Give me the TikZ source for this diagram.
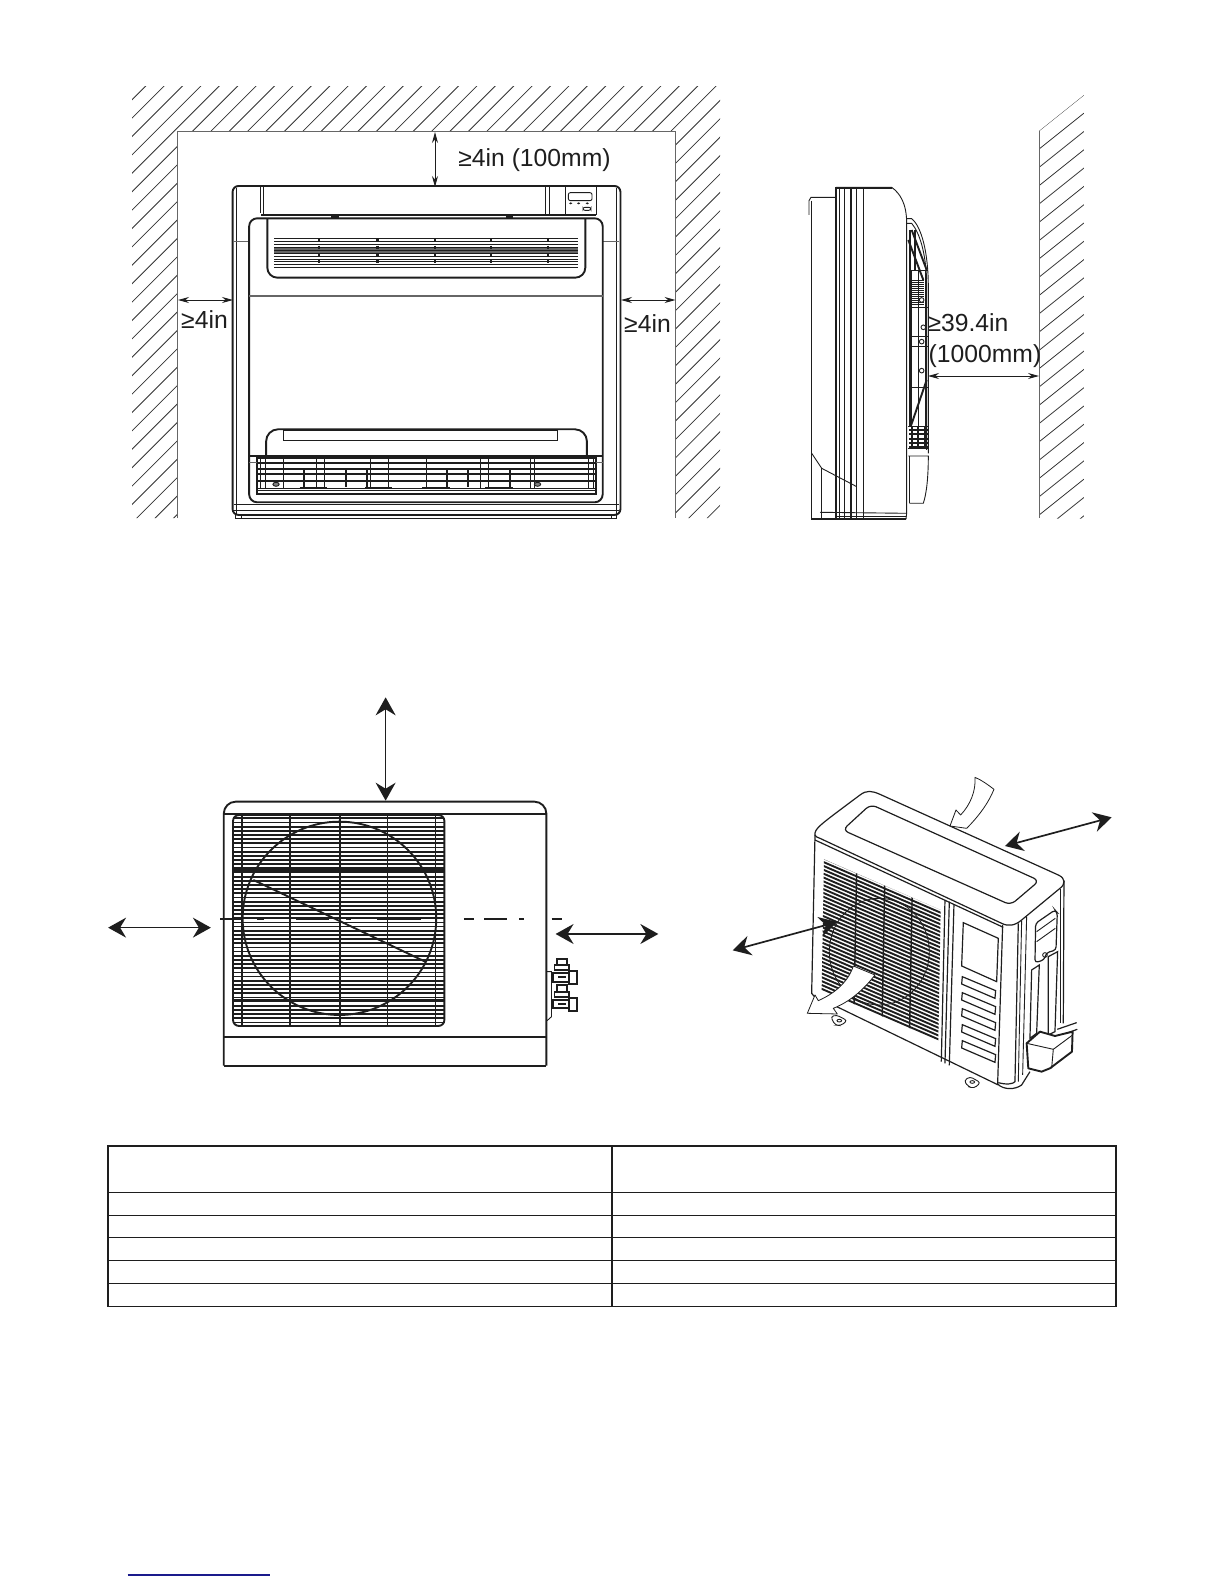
\documentclass[tikz,border=0pt]{standalone}
\usepackage{fontspec}
\setmainfont{Liberation Sans}
\usetikzlibrary{arrows.meta}
\definecolor{ink}{HTML}{1E1E1E}
\definecolor{linkblue}{HTML}{1A1A8C}
\tikzset{
 ln/.style={draw=ink,line width=.45pt},
 lnb/.style={draw=ink,line width=.95pt},
 lnh/.style={draw=ink,line width=1.3pt},
 lng/.style={draw=black!60,line width=.45pt},
 hat/.style={draw=black!80,line width=.4pt},
 tbl/.style={draw=ink,line width=.6pt},
 zA/.style={shift={(120,70)},xscale=0.395,yscale=0.3333},
 zB/.style={shift={(780,80)},xscale=0.3333,yscale=0.3333},
 zC/.style={shift={(100,680)},xscale=0.3695,yscale=0.3333},
 zD/.style={shift={(720,760)},xscale=0.3333,yscale=0.3333},
 dimarrow/.style={draw=ink,line width=.45pt,{Stealth[length=5.5pt,width=3pt]}-{Stealth[length=5.5pt,width=3pt]}},
 bigarrow/.style={draw=ink,line width=.85pt,{Stealth[length=9pt,width=10pt,inset=3pt]}-{Stealth[length=9pt,width=10pt,inset=3pt]}},
 flow/.style={draw=ink,fill=white,line width=.4pt,line join=round},
 lab/.style={font=\fontsize{12.4}{15}\selectfont,inner sep=0pt,text=ink},
}
\begin{document}
\begin{tikzpicture}[x=.5bp,y=-.5bp]
\useasboundingbox (0,0) rectangle (1224,1584);
\fill[white] (0,0) rectangle (1224,1584);
% wall, front view
\begin{scope}
\clip (132,86) -- (720,86) -- (720,518) -- (675.5,518) -- (675.5,131) -- (177.7,131) -- (177.7,518) -- (132,518) -- cycle;
\foreach \k in {0,...,55}{
 \pgfmathsetmacro\c{231.7+18.4*\k}
 \draw[hat] (\c-80,80) -- (\c-530,530);
}
\end{scope}
\draw[lng] (177.7,518) -- (177.7,131) -- (675.5,131) -- (675.5,518);
% front indoor unit
\begin{scope}[zA]
\draw[lnb,rounded corners=3pt] (285,1335) -- (285,348) -- (1267,348) -- (1267,1335) -- cycle;
\draw[ln] (296,355) -- (296,1335);
\draw[ln] (1258,355) -- (1258,1335);
\draw[ln] (293,1335) -- (293,1345) -- (1258,1345) -- (1258,1335);
\draw[ln] (308,1335) -- (308,1345);
\draw[ln] (1244,1335) -- (1244,1345);
\draw[ln] (288,1304) -- (1264,1304);
\draw[ln] (288,1320) -- (1264,1320);
\draw[lng] (288,515) -- (327,515);
\draw[lng] (1222,515) -- (1264,515);
\draw[ln] (355,350) -- (355,428);
\draw[ln] (362,350) -- (362,432);
\draw[lnb] (358,435) -- (1205,435);
\draw[ln] (1078,350) -- (1078,435);
\draw[ln] (1086,350) -- (1086,435);
\draw[ln] (1128,350) -- (1128,435);
\draw[ln] (1205,350) -- (1205,435);
\draw[ln,rounded corners=1pt] (1135,368) rectangle (1195,392);
\foreach \x in {1141,1161,1183}{\fill[ink] (\x,400) ellipse (4 and 3);}
\draw[ln,rounded corners=1pt] (1172,412) rectangle (1192,421);
\draw[lnb] (535,442) -- (555,442);
\draw[lnb] (978,442) -- (995,442);
\draw[lnb,rounded corners=4pt] (327,1297) -- (327,445) -- (1222,445) -- (1222,1297) -- cycle;
\draw[lng,line width=.6pt] (327,678) -- (1222,678);
\draw[lnb,rounded corners=5pt] (373,447) -- (373,623) -- (1178,623) -- (1178,447);
\fill[black!60] (390,531) rectangle (1160,551);
\foreach \y in {505,513,523,531,540,550,560,567,575,583,592}{\draw[ln] (390,\y) -- (1160,\y);}
\foreach \x in {503,652,797,940,1083}{\draw[draw=ink,line width=1.1pt,dash pattern=on 1.5pt off 2.2pt] (\x,505) -- (\x,592);}
\draw[lnb,rounded corners=6pt] (370,1155) -- (370,1078) -- (1182,1078) -- (1182,1155);
\draw[ln] (415,1078) -- (415,1112) -- (1108,1112) -- (1108,1078);
\draw[lnb] (415,1079) -- (1108,1079);
\draw[lnh] (327,1158) -- (1222,1158);
\draw[lnb] (347,1165) rectangle (1205,1273);
\draw[lng] (327,1178) -- (1222,1178);
\draw[ln] (347,1262) -- (1205,1262);
\foreach \y in {1180,1197,1213,1232}{\draw[lnb] (347,\y) -- (1205,\y);}
\foreach \y in {1254}{\draw[ln] (347,\y) -- (1205,\y);}
\foreach \x in {355,367,413,497,518,635,680,775,913,933,1040,1050,1185,1198}{\draw[ln] (\x,1165) -- (\x,1254);}
\foreach \x in {465,572,625,828,882,988}{\draw[lnb] (\x,1197) -- (\x,1250);}
\foreach \x in {395,1057}{\draw[ln,fill=black!50] (\x,1243) ellipse (8 and 6);}
\foreach \a/\b in {455/525,620/688,765/835,925/995}{\draw[ln,line width=.7pt] (\a,1252) -- (\b,1252);}
\end{scope}
% dimension arrows, front view
\coordinate (topA) at (435,132);
\coordinate (topB) at (435,187);
\coordinate (lfA) at (178,300);
\coordinate (lfB) at (233,300);
\coordinate (rtA) at (621,300);
\coordinate (rtB) at (675.5,300);
\draw[dimarrow] (topA) -- (topB);
\draw[dimarrow] (lfA) -- (lfB);
\draw[dimarrow] (rtA) -- (rtB);
\node[lab] (t1) at (534.5,160.5) {≥4in (100mm)};
\node[lab] (t2) at (204.5,319.5) {≥4in};
\node[lab] (t3) at (647.5,324) {≥4in};
% wall, side view
\begin{scope}
\clip (1039,131) -- (1084,95) -- (1084,518.5) -- (1039,518.5) -- cycle;
\foreach \k in {0,...,23}{
 \pgfmathsetmacro\c{962+18.3*\k}
 \draw[hat] (1039,\c-831.2) -- (1084,\c-867.2);
}
\end{scope}
\draw[lng,line width=.5pt] (1039,131) -- (1039,518);
% side indoor unit
\begin{scope}[zB]
\draw[ln] (87,405) -- (87,362) -- (93,352) -- (168,352);
\draw[ln] (93,362) -- (93,1318);
\draw[lnb] (93,1318) -- (378,1318);
\draw[ln] (168,322) -- (335,322) .. controls (360,340) and (380,370) .. (380,430) -- (380,1300) -- (378,1318);
\draw[ln] (172,326) -- (335,326);
\foreach \x in {168,178,193,213,230,250}{\draw[ln,line width=.7pt] (\x,322) -- (\x,1318);}
\draw[ln] (95,1120) -- (125,1165) -- (230,1220);
\draw[ln] (125,1165) -- (125,1318);
\draw[ln] (120,1297) -- (378,1300);
\draw[ln] (168,1308) -- (378,1308);
\draw[ln] (380,416) -- (395,416) .. controls (425,440) and (445,520) .. (445,620) -- (445,1120);
\draw[ln] (380,430) -- (395,430) .. controls (420,460) and (437,520) .. (440,600) -- (440,1110);
\draw[lnb] (390,450) -- (390,1040);
\draw[lnb] (395,450) -- (440,570);
\draw[lnb] (405,450) -- (405,570);
\draw[lnb] (385,480) -- (430,600);
\draw[lnb] (440,900) -- (392,1040);
\foreach \y in {570,682,770,800,922}{\draw[ln] (388,\y) -- (443,\y);}
\foreach \x in {395,415,435}{\draw[ln] (\x,570) -- (\x,1040);}
\foreach \y in {600,606,...,672}{\draw[ln,line width=.3pt] (397,\y) -- (433,\y);}
\foreach \x/\y in {425/660,430/742,425/785,425/872}{\draw[ln,fill=white] (\x,\y) circle (7);}
\draw[ln] (385,1040) -- (443,1040);
\foreach \y in {1050,1063,1076,1088,1100}{\draw[lnb] (388,\y) -- (443,\y);}
\foreach \x in {395,415,435}{\draw[lnb] (\x,1040) -- (\x,1100);}
\draw[ln] (385,1105) -- (445,1105);
\draw[ln] (385,1128) -- (445,1128) .. controls (445,1190) and (440,1240) .. (430,1270) -- (388,1270);
\draw[ln] (388,1128) -- (388,1270);
\end{scope}
\coordinate (sdA) at (928,376);
\coordinate (sdB) at (1039,376);
\draw[dimarrow] (sdA) -- (sdB);
\node[lab] (t4) at (968,323) {≥39.4in};
\node[lab] (t5) at (985,356) {(1000mm)};
% outdoor unit, front
\begin{scope}[zC]
\draw[lnb,rounded corners=6pt] (335,1157) -- (335,365) -- (1208,365) -- (1208,1157);
\draw[lnb] (335,1157) -- (1208,1157);
\draw[lnb] (335,402) -- (1208,402);
\draw[lnb] (335,1070) -- (1208,1070);
\foreach \y in {415,427.5,...,1030}{\draw[ln,line width=.85pt] (360,\y) -- (932,\y);}
\draw[lnb,rounded corners=3pt] (360,405) rectangle (932,1038);
\draw[lnh] (360,566) -- (932,566);
\draw[lnh] (360,574) -- (932,574);
\draw[lnh] (360,962) -- (932,962);
\foreach \x in {385,515,650,778,908}{\draw[lnb] (\x,405) -- (\x,1038);}
\draw[lnb] (648,715) ellipse (262 and 290);
\draw[lnb] (415,600) -- (880,845);
\foreach \a/\b in {325/385,425/443,530/620,665/680,750/870,985/1012,1040/1102,1135/1148,1222/1250}{\draw[lnb] (\a,717) -- (\b,717);}
\draw[ln] (1210,875) -- (1222,875) -- (1222,1010) -- (1210,1022);
\foreach \d in {0,80}{
 \begin{scope}[shift={(0,\d)}]
 \draw[lnb,fill=white] (1236,836) rectangle (1264,855);
 \draw[lnb,fill=white] (1230,855) rectangle (1270,870);
 \draw[lnb,fill=white] (1226,880) rectangle (1270,905);
 \draw[lnb,fill=white] (1270,874) rectangle (1290,912);
 \draw[lnb] (1240,892) -- (1262,892);
 \end{scope}
}
\coordinate (oA) at (773,52);
\coordinate (oB) at (773,362);
\coordinate (oC) at (22,743);
\coordinate (oD) at (300,743);
\coordinate (oE) at (1233,762);
\coordinate (oF) at (1511,762);
\end{scope}
\draw[bigarrow] (oA) -- (oB);
\draw[bigarrow] (oC) -- (oD);
\draw[bigarrow] (oE) -- (oF);
% outdoor unit, perspective
\begin{scope}[zD]
\draw[ln,line width=.6pt] (285,225) .. controls (283,205) and (300,195) .. (420,105) .. controls (440,90) and (455,92) .. (480,103) -- (1015,345) .. controls (1037,355) and (1037,372) .. (1020,385) -- (905,480) .. controls (885,497) and (865,500) .. (845,490) -- (300,235) .. controls (292,232) and (286,230) .. (285,225) -- cycle;
\draw[ln,line width=.6pt,rounded corners=3pt] (368,210) -- (452,133) -- (958,362) -- (872,435) -- cycle;
\draw[ln,line width=.6pt] (285,240) -- (850,502);
\draw[ln,line width=.6pt] (285,225) -- (275,700) -- (285,712);
\draw[ln,line width=.6pt] (1032,362) -- (1030,790);
\draw[ln,line width=.6pt] (340,735) -- (835,975);
\draw[ln,line width=.6pt] (848,495) -- (833,972) .. controls (850,990) and (885,990) .. (905,975) -- (930,935);
\draw[ln,line width=.6pt] (895,490) -- (885,965) .. controls (880,972) and (860,975) .. (835,968);
\draw[ln] (905,482) -- (895,965);
\draw[ln] (920,470) -- (908,945);
\draw[ln,line width=.6pt] (675,420) -- (664,905);
\draw[ln,line width=.6pt] (688,425) -- (675,910);
\draw[ln,line width=.6pt] (702,433) -- (688,916);
\draw[ln] (1020,388) -- (1020,790);
\begin{scope}
\clip (312,298) -- (662,450) -- (655,842) -- (305,690) -- cycle;
\foreach \k in {0,...,36}{
 \pgfmathsetmacro\ya{290+\k*11.6}
 \draw[draw=ink,line width=.95pt] (300,\ya) -- (670,\ya+160);
}
\foreach \a/\b in {410/400,495/485,578/568}{\draw[draw=ink,line width=.7pt] (\a,330) -- (\b,850);}
\draw[draw=ink,line width=.4pt] (478,575) ellipse (150 and 160);
\end{scope}
\draw[ln,line width=.6pt] (730,488) -- (835,535) -- (830,665) -- (725,618) -- cycle;
\foreach \d in {0,...,4}{
 \pgfmathsetmacro\ys{\d*48}
 \draw[ln,line width=.6pt] (727,650+\ys) -- (827,692+\ys) -- (825,715+\ys) -- (725,672+\ys) -- cycle;
}
\draw[ln,line width=.6pt,rounded corners=1.5pt] (947,490) -- (1005,450) -- (1012,458) -- (1008,570) -- (980,578) -- (972,600) -- (945,608) -- cycle;
\draw[ln] (950,515) -- (1006,475);
\draw[ln] (950,545) -- (1006,505);
\draw[ln] (975,585) circle (7);
\draw[ln,line width=.6pt] (935,630) -- (958,615) -- (950,820) -- (930,835) -- cycle;
\draw[ln,line width=.6pt] (985,590) -- (1013,575) -- (1005,815) -- (985,825) -- cycle;
\draw[ln,line width=.6pt] (1012,808) -- (1070,788);
\draw[ln,line width=.6pt] (1022,826) -- (1072,808);
\draw[lnb,fill=white,line join=round] (920,850) -- (960,815) -- (1005,828) -- (1058,815) -- (1056,875) -- (990,925) -- (965,935) -- (925,925) -- cycle;
\draw[ln] (920,850) -- (1000,868) -- (995,925);
\draw[ln] (1000,868) -- (1058,825);
\draw[ln,fill=white,rounded corners=1.5pt] (332,770) -- (350,765) -- (382,782) -- (362,797) -- (345,795) -- cycle;
\draw[ln] (358,782) ellipse (7 and 4);
\draw[ln,fill=white,rounded corners=1.5pt] (732,962) -- (750,950) -- (782,968) -- (762,985) -- (745,980) -- cycle;
\draw[ln] (757,966) ellipse (7 and 4);
\draw[flow] (765,52) .. controls (785,60) and (805,75) .. (822,88) .. controls (805,130) and (775,170) .. (740,205) -- (690,198) -- (708,150) -- (722,165) .. controls (750,135) and (768,95) .. (765,52) -- cycle;
\draw[flow] (400,618) -- (465,645) .. controls (430,690) and (390,725) .. (340,745) -- (352,762) -- (262,760) -- (285,705) -- (295,722) .. controls (345,700) and (385,665) .. (400,618) -- cycle;
\coordinate (pA) at (855,258);
\coordinate (pB) at (1175,172);
\coordinate (pC) at (38,571);
\coordinate (pD) at (352,486);
\end{scope}
\draw[bigarrow] (pA) -- (pB);
\draw[bigarrow] (pC) -- (pD);
% table
\draw[tbl] (108,1146) rectangle (1116,1306.3);
\foreach \y in {1192.3,1215.3,1237.3,1260.3,1283.3}{\draw[tbl] (108,\y) -- (1116,\y);}
\draw[tbl] (612,1146) -- (612,1306.3);
\draw[draw=linkblue,line width=.6pt] (127.5,1575) -- (270,1575);
\end{tikzpicture}
\end{document}
